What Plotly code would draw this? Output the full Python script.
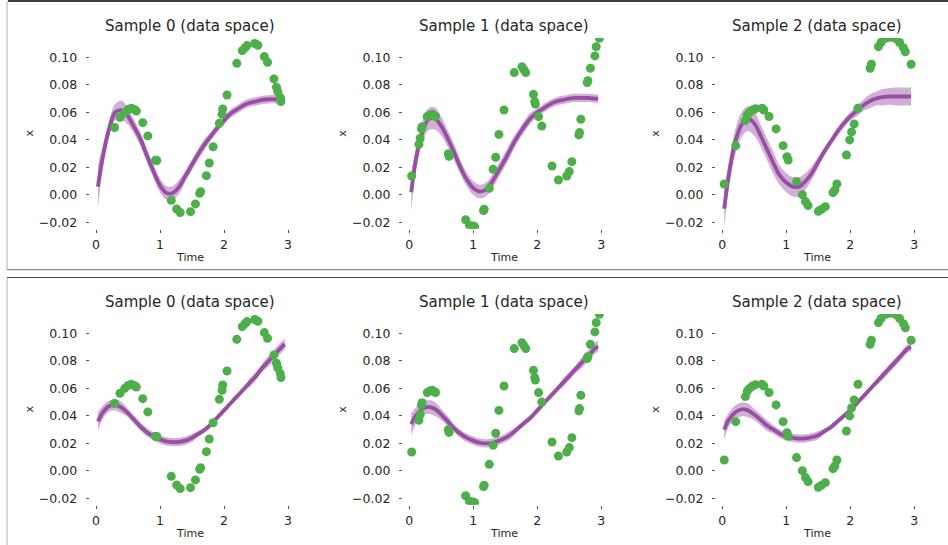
import plotly.graph_objects as go

W, H = 948, 545

# ---------------- data ----------------
T = [0.03, 0.1, 0.2, 0.3, 0.4, 0.5, 0.6, 0.7, 0.8, 0.9, 1.0, 1.1, 1.2, 1.3, 1.4,
     1.5, 1.6, 1.7, 1.8, 1.9, 2.0, 2.1, 2.2, 2.3, 2.4, 2.5, 2.6, 2.7, 2.8, 2.9, 2.95]

# observed points (same in both figures)
obs_t0 = [0.29, 0.375, 0.45, 0.50, 0.55, 0.60, 0.63, 0.73, 0.81, 0.93, 0.95, 1.176, 1.26, 1.316,
          1.477, 1.554, 1.62, 1.635, 1.725, 1.77, 1.83, 1.927, 1.97, 1.98, 2.047, 2.2, 2.285, 2.33,
          2.36, 2.48, 2.53, 2.63, 2.68, 2.78, 2.82, 2.84, 2.88, 2.89]
obs_x0 = [0.049, 0.0564, 0.060, 0.062, 0.063, 0.062, 0.061, 0.0525, 0.0429, 0.0252, 0.025, -0.0039,
          -0.0102, -0.0128, -0.0121, -0.0065, 0.0012, 0.0024, 0.014, 0.0232, 0.035, 0.052, 0.0586,
          0.0625, 0.0726, 0.0956, 0.1048, 0.107, 0.1085, 0.110, 0.1087, 0.1005, 0.0964, 0.0843,
          0.0782, 0.075, 0.0707, 0.0678]

obs_t1 = [0.037, 0.15, 0.17, 0.19, 0.2, 0.28, 0.32, 0.36, 0.39, 0.41, 0.61, 0.62, 0.88, 0.94, 1.0,
          1.02, 1.16, 1.17, 1.25, 1.31, 1.35, 1.40, 1.48, 1.64, 1.76, 1.79, 1.82, 1.94, 1.96, 1.97,
          2.02, 2.07, 2.23, 2.33, 2.46, 2.50, 2.54, 2.65, 2.66, 2.68, 2.78, 2.79, 2.83, 2.90, 2.92, 2.97]
obs_x1 = [0.0138, 0.0368, 0.041, 0.048, 0.0496, 0.0569, 0.058, 0.0586, 0.0576, 0.057, 0.030, 0.028,
          -0.018, -0.022, -0.0225, -0.023, -0.0114, -0.0104, 0.0048, 0.0186, 0.0274, 0.044, 0.0617,
          0.0889, 0.0932, 0.091, 0.0889, 0.0731, 0.0678, 0.066, 0.0569, 0.050, 0.021, 0.0109, 0.0138,
          0.017, 0.0242, 0.0436, 0.0453, 0.055, 0.0816, 0.083, 0.092, 0.101, 0.1077, 0.1138]

obs_t2 = [0.03, 0.21, 0.36, 0.39, 0.42, 0.47, 0.52, 0.62, 0.65, 0.73, 0.84, 0.95, 1.01, 1.03, 1.16,
          1.25, 1.30, 1.34, 1.50, 1.55, 1.61, 1.73, 1.76, 1.79, 1.94, 1.99, 2.02, 2.06, 2.12, 2.31,
          2.33, 2.44, 2.48, 2.55, 2.62, 2.71, 2.77, 2.83, 2.86, 2.95]
obs_x2 = [0.008, 0.0358, 0.054, 0.058, 0.0598, 0.0617, 0.0627, 0.063, 0.0617, 0.057, 0.048, 0.0358,
          0.0278, 0.0254, 0.0097, 0.0002, -0.0048, -0.0077, -0.0119, -0.0104, -0.0085, 0.0017, 0.0036,
          0.008, 0.029, 0.040, 0.0458, 0.0516, 0.063, 0.092, 0.0949, 0.1077, 0.1107, 0.1138, 0.1145,
          0.1135, 0.1107, 0.107, 0.104, 0.0949]

# top figure: predicted mean and half-width of band
top_mean0 = [0.006, 0.026, 0.047, 0.060, 0.0615, 0.057, 0.049, 0.040, 0.028, 0.017, 0.007, 0.0015,
             0.0015, 0.006, 0.014, 0.022, 0.030, 0.037, 0.043, 0.049, 0.054, 0.059, 0.062, 0.065,
             0.067, 0.068, 0.069, 0.0695, 0.0695, 0.069, 0.069]
top_band0 = [0.016, 0.009, 0.006, 0.006, 0.007, 0.006, 0.005, 0.005, 0.005, 0.005, 0.005, 0.005,
             0.005, 0.005, 0.004, 0.004, 0.004, 0.004, 0.003, 0.003, 0.003, 0.003, 0.003, 0.003,
             0.003, 0.003, 0.003, 0.003, 0.003, 0.003, 0.003]
top_mean1 = [0.002, 0.025, 0.045, 0.055, 0.0555, 0.050, 0.041, 0.031, 0.020, 0.011, 0.005, 0.0025,
             0.004, 0.010, 0.018, 0.026, 0.035, 0.043, 0.050, 0.056, 0.060, 0.063, 0.066, 0.068,
             0.069, 0.070, 0.0705, 0.0705, 0.0705, 0.070, 0.070]
top_band1 = [0.014, 0.009, 0.008, 0.008, 0.008, 0.007, 0.006, 0.006, 0.005, 0.005, 0.005, 0.005,
             0.005, 0.005, 0.005, 0.005, 0.005, 0.004, 0.004, 0.004, 0.003, 0.003, 0.003, 0.003,
             0.003, 0.003, 0.003, 0.003, 0.003, 0.003, 0.003]
top_mean2 = [-0.010, 0.014, 0.038, 0.051, 0.0555, 0.052, 0.043, 0.033, 0.023, 0.014, 0.009, 0.006,
             0.006, 0.010, 0.016, 0.024, 0.032, 0.039, 0.046, 0.052, 0.057, 0.061, 0.065, 0.068,
             0.070, 0.071, 0.0715, 0.0715, 0.0715, 0.0715, 0.0715]
top_band2 = [0.014, 0.010, 0.009, 0.009, 0.009, 0.009, 0.008, 0.008, 0.008, 0.007, 0.007, 0.007,
             0.007, 0.006, 0.005, 0.004, 0.003, 0.003, 0.003, 0.003, 0.003, 0.004, 0.004, 0.005,
             0.005, 0.006, 0.006, 0.0065, 0.0065, 0.0065, 0.0065]

# bottom figure
bot_mean0 = [0.036, 0.042, 0.047, 0.048, 0.046, 0.042, 0.037, 0.032, 0.028, 0.025, 0.023, 0.0215,
             0.021, 0.0212, 0.022, 0.024, 0.027, 0.030, 0.034, 0.039, 0.044, 0.049, 0.054, 0.059,
             0.064, 0.069, 0.075, 0.080, 0.085, 0.090, 0.092]
bot_band0 = [0.007, 0.005, 0.004, 0.004, 0.004, 0.003, 0.003, 0.003, 0.003, 0.003, 0.003, 0.003,
             0.003, 0.003, 0.003, 0.003, 0.002, 0.002, 0.002, 0.002, 0.002, 0.002, 0.002, 0.002,
             0.003, 0.003, 0.003, 0.004, 0.004, 0.004, 0.004]
bot_mean1 = [0.034, 0.040, 0.045, 0.0465, 0.045, 0.041, 0.036, 0.031, 0.027, 0.024, 0.022, 0.0205,
             0.020, 0.0205, 0.022, 0.024, 0.027, 0.031, 0.035, 0.039, 0.044, 0.049, 0.054, 0.059,
             0.064, 0.069, 0.074, 0.079, 0.084, 0.089, 0.0905]
bot_band1 = [0.008, 0.006, 0.005, 0.005, 0.005, 0.004, 0.004, 0.003, 0.003, 0.003, 0.003, 0.003,
             0.003, 0.003, 0.003, 0.003, 0.003, 0.002, 0.002, 0.002, 0.002, 0.002, 0.002, 0.002,
             0.003, 0.003, 0.003, 0.004, 0.004, 0.004, 0.004]
bot_mean2 = [0.030, 0.037, 0.0425, 0.0448, 0.044, 0.041, 0.037, 0.033, 0.030, 0.027, 0.025, 0.024,
             0.0235, 0.0237, 0.0245, 0.026, 0.029, 0.032, 0.036, 0.040, 0.044, 0.049, 0.054, 0.059,
             0.064, 0.069, 0.074, 0.079, 0.084, 0.089, 0.090]
bot_band2 = [0.007, 0.005, 0.005, 0.005, 0.005, 0.004, 0.004, 0.004, 0.003, 0.003, 0.003, 0.003,
             0.003, 0.003, 0.003, 0.003, 0.002, 0.002, 0.002, 0.002, 0.002, 0.002, 0.002, 0.002,
             0.002, 0.003, 0.003, 0.003, 0.003, 0.003, 0.003]

titles = ["Sample 0 (data space)", "Sample 1 (data space)", "Sample 2 (data space)"]
x_ticks = [0, 1, 2, 3]
y_ticks = [-0.02, 0.0, 0.02, 0.04, 0.06, 0.08, 0.10]

obs_t = [obs_t0, obs_t1, obs_t2]
obs_x = [obs_x0, obs_x1, obs_x2]
means = [[top_mean0, top_mean1, top_mean2], [bot_mean0, bot_mean1, bot_mean2]]
bands = [[top_band0, top_band1, top_band2], [bot_band0, bot_band1, bot_band2]]

# ---------------- styling / layout ----------------
GREEN = "#4daf4a"
PURPLE = "#984ea3"
BAND = "rgba(152,78,163,0.45)"
TXT = "#262626"
FONT = "DejaVu Sans"

XR = [-0.1, 3.05]
YR = [-0.0245, 0.114]
col_x0 = [96.0, 409.3, 722.3]      # pixel of t=0 in each column
PX_PER_T = 64.0
row_top = [38.0, 314.0]            # pixel of axis top
row_bot = [228.7, 504.7]           # pixel of axis bottom


def fx(p):
    return p / W


def fy(p):
    return 1 - p / H


fig = go.Figure()
annotations = []
k = 0
for r in range(2):
    for c in range(3):
        k += 1
        xa = "x" if k == 1 else f"x{k}"
        ya = "y" if k == 1 else f"y{k}"
        m = means[r][c]
        b = bands[r][c]
        lo = [mi - bi for mi, bi in zip(m, b)]
        hi = [mi + bi for mi, bi in zip(m, b)]
        fig.add_trace(go.Scatter(x=T, y=lo, mode="lines", line=dict(width=0, shape="spline"),
                                 hoverinfo="skip", showlegend=False, xaxis=xa, yaxis=ya))
        fig.add_trace(go.Scatter(x=T, y=hi, mode="lines", line=dict(width=0, shape="spline"),
                                 fill="tonexty", fillcolor=BAND, hoverinfo="skip",
                                 showlegend=False, xaxis=xa, yaxis=ya))
        fig.add_trace(go.Scatter(x=T, y=m, mode="lines",
                                 line=dict(color=PURPLE, width=3.8, shape="spline"),
                                 showlegend=False, xaxis=xa, yaxis=ya))
        fig.add_trace(go.Scatter(x=obs_t[c], y=obs_x[c], mode="markers",
                                 marker=dict(color=GREEN, size=9, line=dict(width=0)),
                                 showlegend=False, xaxis=xa, yaxis=ya))

        left = col_x0[c] + XR[0] * PX_PER_T
        right = col_x0[c] + XR[1] * PX_PER_T
        axis_common = dict(showgrid=False, zeroline=False, showline=False, ticks="outside",
                           ticklen=3, tickwidth=1, tickcolor="#555555",
                           tickfont=dict(family=FONT, size=12.5, color=TXT))
        fig.layout[("xaxis" if k == 1 else f"xaxis{k}")] = dict(
            domain=[fx(left), fx(right)], range=XR, anchor=ya, tickvals=x_ticks,
            ticktext=[str(v) for v in x_ticks], ticklabelstandoff=1, **axis_common)
        fig.layout[("yaxis" if k == 1 else f"yaxis{k}")] = dict(
            domain=[fy(row_bot[r]), fy(row_top[r])], range=YR, anchor=xa, tickvals=y_ticks,
            tickformat=".2f", ticklabelstandoff=6, **axis_common)

        cx = (left + right) / 2
        off = r * 276
        annotations.append(dict(text=titles[c], x=fx(cx), y=fy(26 + off), xref="paper",
                                yref="paper", showarrow=False, xanchor="center", yanchor="middle",
                                font=dict(family=FONT, size=15, color=TXT)))
        annotations.append(dict(text="Time", x=fx(cx), y=fy(257 + off), xref="paper",
                                yref="paper", showarrow=False, xanchor="center", yanchor="middle",
                                font=dict(family=FONT, size=11, color=TXT)))
        annotations.append(dict(text="x", x=fx(left - 60.5), y=fy((row_top[r] + row_bot[r]) / 2),
                                xref="paper", yref="paper", showarrow=False, textangle=-90,
                                xanchor="center", yanchor="middle",
                                font=dict(family=FONT, size=11, color=TXT)))

shapes = [
    dict(type="line", xref="paper", yref="paper", x0=fx(8), x1=1, y0=fy(1), y1=fy(1),
         line=dict(color="#000000", width=1.5)),
    dict(type="line", xref="paper", yref="paper", x0=fx(7), x1=fx(7), y0=fy(1), y1=fy(269.5),
         line=dict(color="#b0b0b0", width=1)),
    dict(type="line", xref="paper", yref="paper", x0=fx(7), x1=1, y0=fy(269.7), y1=fy(269.7),
         line=dict(color="#8a8a8a", width=1.2)),
    dict(type="line", xref="paper", yref="paper", x0=fx(7), x1=1, y0=fy(277.5), y1=fy(277.5),
         line=dict(color="#4a4a4a", width=1.2)),
    dict(type="line", xref="paper", yref="paper", x0=fx(7), x1=fx(7), y0=fy(278), y1=0,
         line=dict(color="#b0b0b0", width=1)),
]

fig.update_layout(width=W, height=H, margin=dict(l=0, r=0, t=0, b=0), autosize=False,
                  paper_bgcolor="white", plot_bgcolor="white", showlegend=False,
                  annotations=annotations, shapes=shapes,
                  font=dict(family=FONT, color=TXT))

fig.write_html("out.html", config={"displayModeBar": False},
               post_script="document.body.style.margin='0';document.body.style.overflow='hidden';")
